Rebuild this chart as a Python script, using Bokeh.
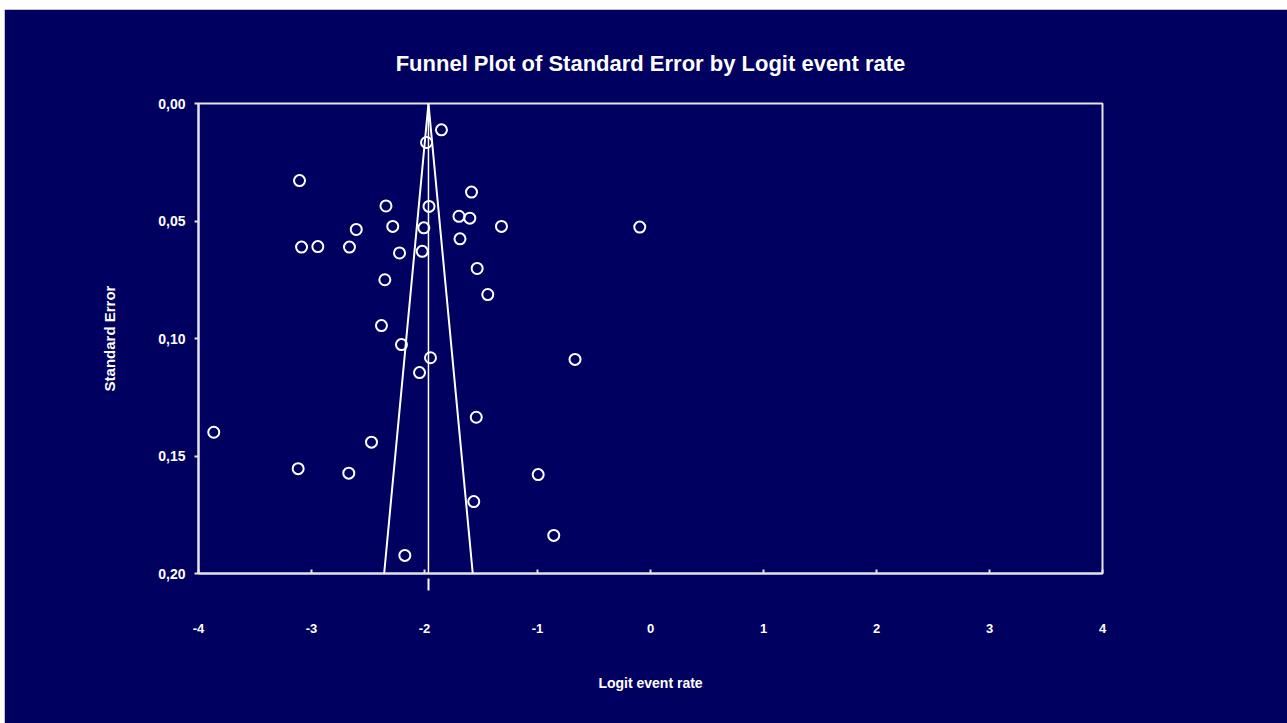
from bokeh.plotting import figure
from bokeh.models import Range1d, FixedTicker
from bokeh.embed import file_html
from bokeh.resources import INLINE

# Study-level estimates: logit event rate and its standard error
logit_event_rate = [
    -1.850, -1.982, -3.106, -1.584, -2.341, -1.960, -1.695, -1.599, -2.281,
    -2.006, -1.319, -0.095, -2.604, -1.686, -3.088, -2.944, -2.664, -2.221,
    -2.020, -1.534, -2.351, -1.440, -2.381, -2.204, -1.947, -0.668, -2.044,
    -1.542, -3.865, -2.469, -3.118, -2.670, -0.994, -1.564, -0.856, -2.174,
]
standard_error = [
    0.0112, 0.0166, 0.0328, 0.0377, 0.0436, 0.0438, 0.0480, 0.0488, 0.0523,
    0.0529, 0.0523, 0.0526, 0.0536, 0.0576, 0.0611, 0.0609, 0.0611, 0.0636,
    0.0629, 0.0702, 0.0750, 0.0813, 0.0945, 0.1026, 0.1082, 0.1089, 0.1145,
    0.1335, 0.1399, 0.1441, 0.1554, 0.1573, 0.1579, 0.1694, 0.1838, 0.1923,
]

# Combined (pooled) logit event rate and the 95% funnel limits
combined_logit = -1.965
z_crit = 1.96
se_max = 0.20

x_ticks = [-4, -3, -2, -1, 0, 1, 2, 3, 4]
x_tick_labels = ["-4", "-3", "-2", "-1", "0", "1", "2", "3", "4"]
y_ticks = [0.0, 0.05, 0.10, 0.15, 0.20]
y_tick_labels = ["0,00", "0,05", "0,10", "0,15", "0,20"]

NAVY = "#000060"
INK = "#ffffff"
FRAME = "#e4e4e4"
FONT = "Liberation Sans"

p = figure(
    width=1283, height=714,
    x_range=Range1d(-4, 4), y_range=Range1d(se_max, 0.0),
    output_backend="svg", toolbar_location=None,
    title="Funnel Plot of Standard Error by Logit event rate",
    min_border_left=194, min_border_right=185,
    min_border_top=94, min_border_bottom=150,
)
p.margin = (9, 0, 0, 4)
p.background_fill_color = NAVY
p.border_fill_color = NAVY
p.outline_line_color = FRAME
p.outline_line_width = 2
p.xgrid.visible = False
p.ygrid.visible = False

p.title.align = "center"
p.title.text_color = INK
p.title.text_font = FONT
p.title.text_font_style = "bold"
p.title.text_font_size = "22px"
p.title.standoff = 55

# x axis: inward major ticks, and a mark for the combined estimate below it
xa = p.xaxis[0]
xa.ticker = FixedTicker(ticks=x_ticks, minor_ticks=[combined_logit])
xa.major_label_overrides = dict(zip(x_ticks, x_tick_labels))
xa.axis_line_color = FRAME
xa.axis_line_width = 2
xa.major_tick_line_color = FRAME
xa.major_tick_line_width = 2
xa.major_tick_in = 4
xa.major_tick_out = 0
xa.minor_tick_line_color = INK
xa.minor_tick_line_width = 2
xa.minor_tick_in = -5
xa.minor_tick_out = 17
xa.major_label_standoff = 33
xa.major_label_text_color = INK
xa.major_label_text_font = FONT
xa.major_label_text_font_style = "bold"
xa.major_label_text_font_size = "13px"
xa.axis_label = "Logit event rate"
xa.axis_label_standoff = 39
xa.axis_label_text_color = INK
xa.axis_label_text_font = FONT
xa.axis_label_text_font_style = "bold"
xa.axis_label_text_font_size = "14px"

# y axis: standard error, increasing downwards
ya = p.yaxis[0]
ya.ticker = FixedTicker(ticks=y_ticks)
ya.major_label_overrides = dict(zip(y_ticks, y_tick_labels))
ya.axis_line_color = FRAME
ya.axis_line_width = 2
ya.major_tick_line_color = FRAME
ya.major_tick_line_width = 2
ya.major_tick_in = 0
ya.major_tick_out = 4
ya.minor_tick_line_color = None
ya.major_label_standoff = 9
ya.major_label_text_color = INK
ya.major_label_text_font = FONT
ya.major_label_text_font_style = "bold"
ya.major_label_text_font_size = "14px"
ya.axis_label = "Standard Error"
ya.axis_label_standoff = 37
ya.axis_label_text_color = INK
ya.axis_label_text_font = FONT
ya.axis_label_text_font_style = "bold"
ya.axis_label_text_font_size = "15px"

# Combined estimate and pseudo 95% confidence limits
p.line([combined_logit, combined_logit], [0.0, se_max],
       line_color=INK, line_width=1.5)
p.line([combined_logit - z_crit * se_max, combined_logit,
        combined_logit + z_crit * se_max],
       [se_max, 0.0, se_max], line_color=INK, line_width=2)

p.scatter(logit_event_rate, standard_error, marker="circle", size=11,
          fill_color=None, line_color=INK, line_width=2)

open("out.html", "w").write(file_html(p, INLINE))
